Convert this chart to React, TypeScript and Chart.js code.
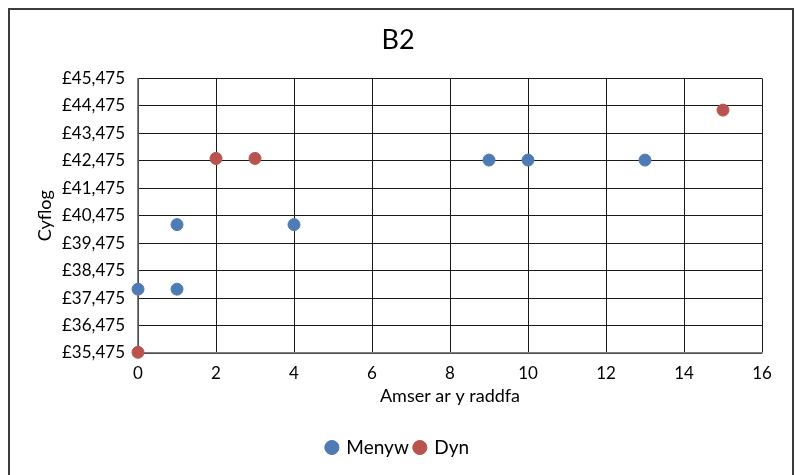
import React, { useEffect, useRef } from "react";
import { Chart, registerables } from "chart.js";

Chart.register(...registerables);

const menywX = [0, 1, 1, 4, 9, 10, 13];
const menywY = [37800, 37800, 40150, 40150, 42500, 42500, 42500];
const dynX = [0, 2, 3, 15];
const dynY = [35500, 42560, 42560, 44320];

const title = "B2";
const xTitle = "Amser ar y raddfa";
const yTitle = "Cyflog";
const seriesNames = ["Menyw", "Dyn"];

const FONT = "Lato, 'Open Sans', sans-serif";

export default function App() {
  const ref = useRef<HTMLCanvasElement | null>(null);
  useEffect(() => {
    if (!ref.current) return;
    const chart = new Chart(ref.current, {
      type: "scatter",
      data: {
        datasets: [
          {
            label: seriesNames[0],
            data: menywX.map((x, i) => ({ x, y: menywY[i] })),
            backgroundColor: "#4f7bb5",
            borderColor: "#4f7bb5",
            pointRadius: 6,
            pointHoverRadius: 6,
            clip: false,
          },
          {
            label: seriesNames[1],
            data: dynX.map((x, i) => ({ x, y: dynY[i] })),
            backgroundColor: "#b9534e",
            borderColor: "#b9534e",
            pointRadius: 6,
            pointHoverRadius: 6,
            clip: false,
          },
        ],
      },
      options: {
        animation: false,
        responsive: false,
        maintainAspectRatio: false,
        layout: { padding: { left: 34, right: 33, top: 10, bottom: 8 } },
        plugins: {
          title: {
            display: true,
            text: title,
            color: "#000",
            font: { family: FONT, size: 27, weight: "normal" },
            padding: { top: 14, bottom: 22 },
          },
          legend: {
            position: "bottom",
            labels: {
              usePointStyle: true,
              pointStyle: "circle",
              boxWidth: 10,
              boxHeight: 10,
              padding: 6,
              color: "#000",
              font: { family: FONT, size: 19 },
            },
          },
          tooltip: { enabled: false },
        },
        scales: {
          x: {
            type: "linear",
            min: 0,
            max: 16,
            afterFit: (scale: any) => {
              scale.height = 79;
            },
            ticks: {
              stepSize: 2,
              color: "#000",
              padding: 10,
              font: { family: FONT, size: 17 },
            },
            grid: { color: "#1a1a1a", drawTicks: false },
            border: { color: "#808080", width: 1.5 },
            title: {
              display: true,
              text: xTitle,
              color: "#000",
              font: { family: FONT, size: 18 },
              padding: { top: 0, bottom: 25 },
            },
          },
          y: {
            type: "linear",
            min: 35475,
            max: 45475,
            afterFit: (scale: any) => {
              scale.width = 104;
            },
            ticks: {
              stepSize: 1000,
              color: "#000",
              padding: 13,
              font: { family: FONT, size: 17 },
              callback: (v: any) => "£" + Number(v).toLocaleString("en-GB"),
            },
            grid: { color: "#1a1a1a", drawTicks: false },
            border: { color: "#808080", width: 1.5 },
            title: {
              display: true,
              text: yTitle,
              color: "#000",
              font: { family: FONT, size: 18 },
              padding: { top: 0, bottom: 0 },
            },
          },
        },
      },
    });
    return () => chart.destroy();
  }, []);
  return (
    <div style={{ position: "fixed", left: 0, top: 0, width: 795, height: 475, background: "#fff" }}>
      <div
        style={{
          position: "absolute",
          left: 8,
          top: 8,
          width: 786,
          height: 480,
          border: "2px solid #3c3c3c",
          boxSizing: "border-box",
        }}
      />
      <canvas ref={ref} width={795} height={475} style={{ position: "absolute", left: 0, top: 0 }} />
    </div>
  );
}
